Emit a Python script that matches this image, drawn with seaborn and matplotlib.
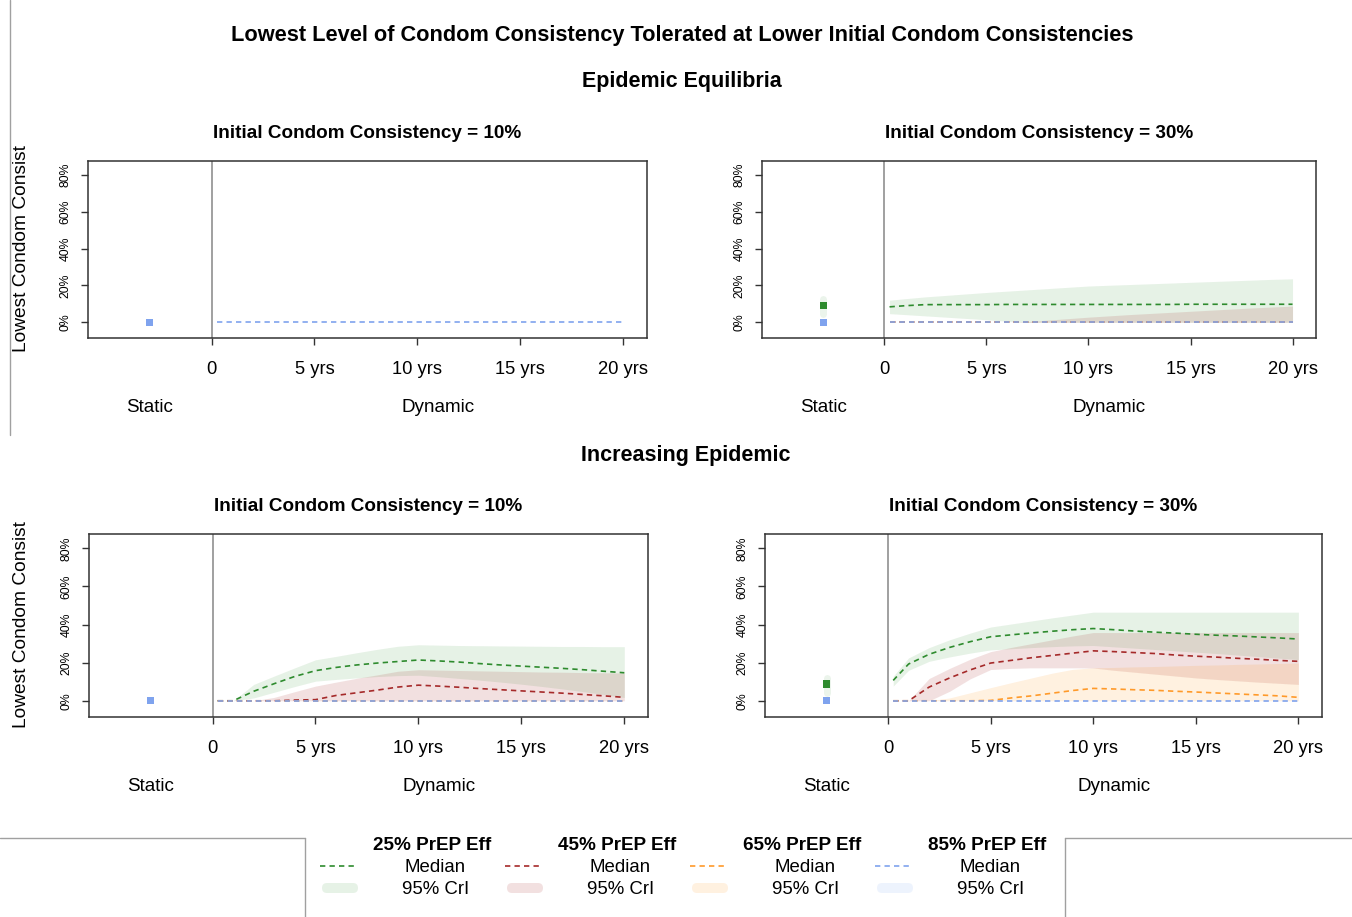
import matplotlib
matplotlib.use("Agg")
import numpy as np
import pandas as pd
import matplotlib.pyplot as plt
from matplotlib.patches import FancyBboxPatch
import seaborn as sns

# time points (years after PrEP start)
years = [0.25, 1, 2, 3, 4, 5, 6, 7, 8, 9, 10, 11, 12, 13, 14, 15, 16, 17, 18, 19, 20]
zeros = [0.0] * len(years)

effs = ["25% PrEP Eff", "45% PrEP Eff", "65% PrEP Eff", "85% PrEP Eff"]
line_cols = ["#2E8B2E", "#A52A2A", "#FF9A2A", "#7FA3EE"]
fill_cols = ["#228B22", "#A52A2A", "#FF8C00", "#6495ED"]
fill_alpha = [0.11, 0.14, 0.12, 0.11]

# Epidemic equilibria, initial consistency 30%
eq30_g_med = [8.4, 9.0, 9.6, 9.6, 9.6, 9.6, 9.7, 9.7, 9.7, 9.7, 9.7, 9.7, 9.7, 9.7, 9.7, 9.8, 9.8, 9.8, 9.8, 9.8, 9.8]
eq30_g_lo = [4.7, 4.2, 3.5, 2.8, 2.1, 1.4, 0.6, 0, 0, 0, 0, 0, 0, 0, 0, 0, 0, 0, 0, 0, 0]
eq30_g_hi = [12.0, 12.8, 13.8, 14.6, 15.4, 16.2, 16.9, 17.6, 18.3, 19.0, 19.7, 20.1, 20.5, 20.9, 21.3, 21.7, 22.1, 22.5, 22.9, 23.3, 23.6]
eq30_r_hi = [0, 0, 0, 0, 0, 0, 0, 0.4, 1.2, 2.0, 2.8, 3.5, 4.2, 4.8, 5.4, 6.0, 6.6, 7.2, 7.8, 8.3, 8.8]

# Increasing epidemic, initial consistency 10%
inc10_g_med = [0, 0, 5.0, 9.0, 12.8, 15.8, 17.5, 18.8, 19.8, 20.6, 21.4, 20.9, 20.3, 19.5, 18.8, 18.2, 17.6, 17.0, 16.3, 15.5, 14.7]
inc10_g_lo = [0, 0, 1.5, 4.5, 7.5, 10.3, 11.2, 12.0, 12.7, 13.2, 13.4, 12.6, 11.7, 10.8, 9.8, 8.7, 7.5, 6.2, 4.8, 3.3, 1.7]
inc10_g_hi = [0, 0, 8.6, 13.0, 17.3, 21.5, 23.3, 25.2, 27.0, 28.6, 29.4, 29.2, 29.0, 28.9, 28.8, 28.7, 28.6, 28.5, 28.5, 28.4, 28.4]
inc10_r_med = [0, 0, 0, 0, 0.4, 0.6, 2.8, 4.2, 5.6, 7.2, 8.2, 7.7, 7.1, 6.4, 5.8, 5.2, 4.6, 4.0, 3.3, 2.6, 1.8]
inc10_r_hi = [0, 0, 0, 1.8, 4.8, 7.7, 9.8, 11.8, 13.6, 15.5, 16.3, 16.1, 15.9, 15.7, 15.5, 15.3, 15.1, 15.0, 14.8, 14.7, 14.6]

# Increasing epidemic, initial consistency 30%
inc30_g_med = [10.7, 19.3, 24.4, 28.0, 31.0, 33.6, 34.6, 35.6, 36.5, 37.3, 37.9, 37.3, 36.6, 36.0, 35.5, 34.9, 34.4, 34.0, 33.5, 33.0, 32.4]
inc30_g_lo = [7.7, 16.0, 20.7, 23.0, 25.0, 26.7, 27.3, 27.9, 28.4, 28.8, 29.0, 28.3, 27.6, 26.9, 26.2, 25.5, 24.8, 24.0, 23.2, 22.4, 21.6]
inc30_g_hi = [12.9, 22.5, 27.9, 32.0, 35.5, 38.7, 40.3, 41.9, 43.5, 45.0, 46.5, 46.5, 46.5, 46.5, 46.5, 46.5, 46.5, 46.5, 46.5, 46.5, 46.5]
inc30_r_med = [0, 0, 7.2, 12.0, 16.2, 19.8, 21.2, 22.6, 23.8, 25.0, 26.2, 25.8, 25.3, 24.8, 24.0, 23.4, 22.9, 22.3, 21.8, 21.2, 20.7]
inc30_r_lo = [0, 0, 0, 5.0, 11.5, 16.4, 17.0, 17.3, 17.3, 17.3, 17.2, 16.0, 15.0, 14.0, 13.0, 12.0, 11.2, 10.5, 9.8, 9.2, 8.6]
inc30_r_hi = [0, 0, 11.7, 17.0, 21.8, 25.8, 28.0, 30.0, 32.0, 34.0, 35.8, 35.8, 35.8, 35.8, 35.8, 35.8, 35.8, 35.8, 35.8, 35.8, 35.8]
inc30_o_med = [0, 0, 0, 0, 0, 0.2, 1.5, 2.6, 4.0, 5.4, 6.5, 6.2, 5.8, 5.5, 5.0, 4.6, 4.1, 3.6, 3.1, 2.6, 1.8]
inc30_o_hi = [0, 0, 0, 1.5, 4.2, 6.9, 9.5, 12.0, 14.5, 16.5, 17.3, 17.5, 17.8, 18.0, 18.3, 18.6, 18.8, 19.1, 19.3, 19.6, 19.8]

# static model: (eff index, median, lower, upper)
eq10_static = [(3, 0.0, 0.0, 0.0)]
eq30_static = [(0, 9.3, 4.5, 12.5), (3, 0.0, 0.0, 0.0)]
inc10_static = [(3, 0.0, 0.0, 0.0)]
inc30_static = [(0, 8.9, 4.3, 12.0), (3, 0.0, 0.0, 0.0)]

# (eff index, median, lower, upper) for dynamic model
eq10_bands = [(3, zeros, zeros, zeros)]
eq30_bands = [(0, eq30_g_med, eq30_g_lo, eq30_g_hi), (1, zeros, zeros, eq30_r_hi),
              (2, zeros, zeros, zeros), (3, zeros, zeros, zeros)]
inc10_bands = [(0, inc10_g_med, inc10_g_lo, inc10_g_hi), (1, inc10_r_med, zeros, inc10_r_hi),
               (2, zeros, zeros, zeros), (3, zeros, zeros, zeros)]
inc30_bands = [(0, inc30_g_med, inc30_g_lo, inc30_g_hi), (1, inc30_r_med, inc30_r_lo, inc30_r_hi),
               (2, inc30_o_med, zeros, inc30_o_hi), (3, zeros, zeros, zeros)]

W, H = 1352, 917
sns.set_theme(style="white")
plt.rcParams["font.family"] = ["Liberation Sans", "DejaVu Sans"]
plt.rcParams["text.color"] = "black"
plt.rcParams["xtick.color"] = "black"
plt.rcParams["ytick.color"] = "black"
fig = plt.figure(figsize=(W / 100, H / 100), dpi=100)


def px_axes(l, t, r, b):
    return fig.add_axes([l / W, 1 - b / H, (r - l) / W, (b - t) / H])


def draw_panel(ax, bands, statics, title):
    # credible interval ribbons
    for k, med, lo, hi in bands:
        ax.fill_between(years, lo, hi, color=fill_cols[k], alpha=fill_alpha[k], lw=0, zorder=1)
    # medians
    rows = []
    for k, med, lo, hi in bands:
        for yr, v in zip(years, med):
            rows.append({"year": yr, "med": v, "eff": effs[k]})
    df = pd.DataFrame(rows)
    order = [effs[k] for k, *_ in bands]
    sns.lineplot(data=df, x="year", y="med", hue="eff", hue_order=order,
                 palette=[line_cols[effs.index(e)] for e in order], estimator=None,
                 legend=False, lw=1.2, linestyle=(0, (3.2, 2.5)), ax=ax, zorder=3)
    # static model points
    for k, m, lo, hi in statics:
        if hi > lo:
            ax.plot([-3, -3], [lo, hi], color=fill_cols[k], alpha=0.09, lw=5,
                    solid_capstyle="round", zorder=1)
        sns.scatterplot(x=[-3], y=[m], marker="s", color=line_cols[k], s=28,
                        edgecolor="none", ax=ax, zorder=4)
    ax.axvline(0, color="#999999", lw=1.3, zorder=2)

    ax.set_xlim(-6, 21.15)
    ax.set_ylim(-8.5, 87.5)
    ax.set_xticks([0, 5, 10, 15, 20])
    ax.set_xticklabels(["0", "5 yrs", "10 yrs", "15 yrs", "20 yrs"], fontsize=13.2)
    ax.set_yticks([0, 20, 40, 60, 80])
    ax.set_yticklabels(["0%", "20%", "40%", "60%", "80%"], fontsize=8.8, rotation=90, va="center")
    ax.tick_params(axis="both", direction="out", length=5, width=1, color="#333333",
                   bottom=True, left=True)
    ax.tick_params(axis="x", pad=11.5)
    ax.tick_params(axis="y", pad=7)
    for s in ax.spines.values():
        s.set_color("#333333")
        s.set_linewidth(1.1)
    ax.set_xlabel("")
    ax.set_ylabel("")
    ax.set_title(title, fontsize=13.6, fontweight="bold", pad=16.5)
    for xx, lab in [(-3, "Static"), (11, "Dynamic")]:
        ax.annotate(lab, xy=(xx, 0), xycoords=("data", "axes fraction"), xytext=(0, -50),
                    textcoords="offset points", ha="center", va="center", fontsize=13.6)


ax_tl = px_axes(88, 161, 647, 338)
ax_tr = px_axes(762, 161, 1316, 338)
ax_bl = px_axes(89, 534, 648, 717)
ax_br = px_axes(765, 534, 1322, 717)

draw_panel(ax_tl, eq10_bands, eq10_static, "Initial Condom Consistency = 10%")
draw_panel(ax_tr, eq30_bands, eq30_static, "Initial Condom Consistency = 30%")
draw_panel(ax_bl, inc10_bands, inc10_static, "Initial Condom Consistency = 10%")
draw_panel(ax_br, inc30_bands, inc30_static, "Initial Condom Consistency = 30%")

fig.text(682 / W, 1 - 35 / H, "Lowest Level of Condom Consistency Tolerated at Lower Initial Condom Consistencies",
         ha="center", va="center", fontsize=15.7, fontweight="bold")
fig.text(682 / W, 1 - 82 / H, "Epidemic Equilibria", ha="center", va="center", fontsize=15.5, fontweight="bold")
fig.text(686 / W, 1 - 455 / H, "Increasing Epidemic", ha="center", va="center", fontsize=15.5, fontweight="bold")
for yc in [249, 625]:
    fig.text(22 / W, 1 - yc / H, "Lowest Condom Consist", ha="center", va="center",
             rotation=90, fontsize=13.8)

# overlay in pixel coordinates for the legend and panel borders
ov = fig.add_axes([0, 0, 1, 1])
ov.set_xlim(0, W)
ov.set_ylim(H, 0)
ov.axis("off")
for xs, ys in [([10, 10], [0, 435]), ([0, 305], [838, 838]), ([305, 305], [838, 917]),
               ([1065, 1352], [838, 838]), ([1065, 1065], [838, 917])]:
    ov.plot(xs, ys, color="#A0A0A0", lw=1)

leg_x = [320, 505, 690, 875]
for i, x0 in enumerate(leg_x):
    ov.text(x0 + 112, 845, effs[i], ha="center", va="center", fontsize=13.6, fontweight="bold")
    ov.text(x0 + 115, 867, "Median", ha="center", va="center", fontsize=13.4)
    ov.text(x0 + 116, 889, "95% CrI", ha="center", va="center", fontsize=13.4)
    ov.plot([x0, x0 + 37], [866, 866], color=line_cols[i], lw=1.2, linestyle=(0, (3.2, 2.5)))
    ov.add_patch(FancyBboxPatch((x0 + 2, 883), 36, 10, boxstyle="round,pad=0,rounding_size=5",
                                facecolor=fill_cols[i], alpha=fill_alpha[i], edgecolor="none"))

fig.savefig("out.png", dpi=100)
